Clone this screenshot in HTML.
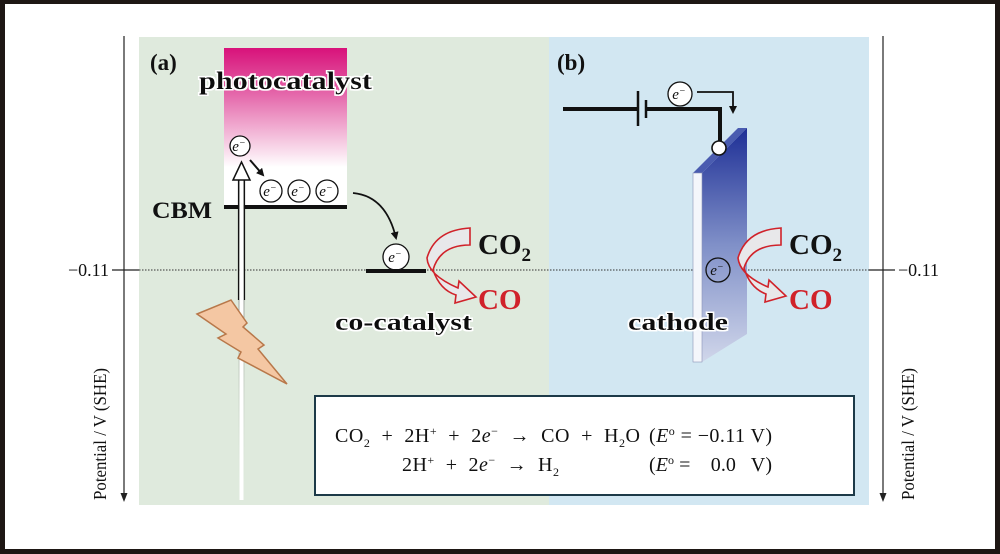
<!DOCTYPE html>
<html><head><meta charset="utf-8"><style>
html,body{margin:0;padding:0;background:#fff}
svg{display:block}
text{font-family:"Liberation Serif",serif;white-space:pre}
</style></head><body>
<svg width="1000" height="554" viewBox="0 0 1000 554" xmlns="http://www.w3.org/2000/svg" xml:space="preserve">
<defs>
<linearGradient id="pc" x1="0" y1="0" x2="0" y2="1">
<stop offset="0" stop-color="#d8127a"/><stop offset="0.25" stop-color="#e25aa3"/><stop offset="0.75" stop-color="#fff"/><stop offset="1" stop-color="#fff"/>
</linearGradient>
<linearGradient id="cat" x1="0" y1="0" x2="0" y2="1">
<stop offset="0" stop-color="#1e2f96"/><stop offset="0.5" stop-color="#8090c8"/><stop offset="1" stop-color="#d0d6ea"/>
</linearGradient>
<linearGradient id="fade" x1="0" y1="0" x2="0" y2="1">
<stop offset="0" stop-color="#333"/><stop offset="1" stop-color="#dfeadd" stop-opacity="0"/>
</linearGradient>
<filter id="halo"><feMorphology in="SourceAlpha" operator="dilate" radius="1.5" result="d"/><feFlood flood-color="#fff"/><feComposite in2="d" operator="in" result="w"/><feMerge><feMergeNode in="w"/><feMergeNode in="SourceGraphic"/></feMerge></filter>
<marker id="ah" markerWidth="8" markerHeight="8" refX="6" refY="4" orient="auto" markerUnits="userSpaceOnUse"><path d="M0,0 L8,4 L0,8 Z" fill="#111"/></marker>
</defs>
<rect x="0" y="0" width="1000" height="554" fill="#1e1714"/>
<rect x="5" y="4" width="990" height="545" fill="#fff"/>
<rect x="139" y="37" width="410" height="468" fill="#dfeadd"/>
<rect x="549" y="37" width="320" height="468" fill="#d2e7f2"/>
<line x1="124" y1="36" x2="124" y2="494" stroke="#222" stroke-width="1.2"/>
<path d="M120.5,493 L127.5,493 L124,502 Z" fill="#222"/>
<line x1="883" y1="36" x2="883" y2="494" stroke="#222" stroke-width="1.2"/>
<path d="M879.5,493 L886.5,493 L883,502 Z" fill="#222"/>
<line x1="112" y1="270" x2="139" y2="270" stroke="#222" stroke-width="1.2"/>
<line x1="869" y1="270" x2="895" y2="270" stroke="#222" stroke-width="1.2"/>
<line x1="139" y1="270" x2="869" y2="270" stroke="#333" stroke-width="1" stroke-dasharray="1.5,1.5"/>
<text x="109" y="276" font-size="18" text-anchor="end" fill="#111">−0.11</text>
<text x="898" y="276" font-size="18" fill="#111">−0.11</text>
<text transform="translate(106,500) rotate(-90)" font-size="18" fill="#111" textLength="132" lengthAdjust="spacingAndGlyphs">Potential / V (SHE)</text>
<text transform="translate(914,500) rotate(-90)" font-size="18" fill="#111" textLength="132" lengthAdjust="spacingAndGlyphs">Potential / V (SHE)</text>
<text x="150" y="70" font-size="23" font-weight="bold" fill="#111">(a)</text>
<rect x="224" y="48" width="123" height="159" fill="url(#pc)"/>
<text x="199" y="89" font-size="25" font-weight="bold" fill="#111" filter="url(#halo)" textLength="173" lengthAdjust="spacingAndGlyphs">photocatalyst</text>
<line x1="224" y1="207" x2="347" y2="207" stroke="#111" stroke-width="4"/>
<text x="152" y="218" font-size="23" font-weight="bold" fill="#111" textLength="60" lengthAdjust="spacingAndGlyphs">CBM</text>
<rect x="238.5" y="178" width="6" height="322" fill="url(#fade)"/>
<rect x="239.5" y="178" width="4" height="322" fill="#fff"/>
<path d="M233,180 L241.5,162 L250,180 Z" fill="#fff" stroke="#111" stroke-width="1.5"/>
<line x1="238.5" y1="180" x2="238.5" y2="300" stroke="#111" stroke-width="1.2"/>
<line x1="244.5" y1="180" x2="244.5" y2="300" stroke="#111" stroke-width="1.2"/>
<polygon points="197,314 231,300 247,323 243,327 264,345 258,349 287,384 238,358 241,352 218,338 226,334" fill="#f4c7a3" stroke="#b8784a" stroke-width="1.5"/>
<g font-size="15" font-style="italic" text-anchor="middle" fill="#111">
<circle cx="240" cy="146" r="10" fill="#fff" stroke="#111" stroke-width="1.3"/><text x="239" y="151">e<tspan font-size="10" dy="-5">−</tspan></text>
<circle cx="271" cy="191" r="11" fill="#fff" stroke="#111" stroke-width="1.3"/><text x="270" y="196">e<tspan font-size="10" dy="-5">−</tspan></text>
<circle cx="299" cy="191" r="11" fill="#fff" stroke="#111" stroke-width="1.3"/><text x="298" y="196">e<tspan font-size="10" dy="-5">−</tspan></text>
<circle cx="327" cy="191" r="11" fill="#fff" stroke="#111" stroke-width="1.3"/><text x="326" y="196">e<tspan font-size="10" dy="-5">−</tspan></text>
<circle cx="396" cy="257" r="13" fill="#fff" stroke="#111" stroke-width="1.3"/><text x="395" y="262">e<tspan font-size="10" dy="-5">−</tspan></text>
<circle cx="680" cy="94" r="12" fill="#fff" stroke="#111" stroke-width="1.3"/><text x="679" y="99">e<tspan font-size="10" dy="-5">−</tspan></text>
</g>
<line x1="250" y1="160" x2="263" y2="175" stroke="#111" stroke-width="2" marker-end="url(#ah)"/>
<path d="M353,193 Q386,196 396,238" fill="none" stroke="#111" stroke-width="1.8" marker-end="url(#ah)"/>
<line x1="366" y1="271" x2="426" y2="271" stroke="#111" stroke-width="4"/>
<path d="M470,228 L470,245 Q440,245 433,270 Q440,290 456,295 L455,303 L476,297 L459,281 L458,288 Q428,275 427,258 Q435,230 470,228 Z" fill="#e8e8ea" stroke="#d0222a" stroke-width="1.6"/>
<text x="478" y="254" font-size="29" font-weight="bold" fill="#111">CO<tspan font-size="19" dy="7">2</tspan></text>
<text x="478" y="309" font-size="29" font-weight="bold" fill="#d0222a">CO</text>
<text x="335" y="330" font-size="24" font-weight="bold" fill="#111" filter="url(#halo)" textLength="137" lengthAdjust="spacingAndGlyphs">co-catalyst</text>
<text x="557" y="70" font-size="23" font-weight="bold" fill="#111">(b)</text>
<line x1="563" y1="109" x2="638" y2="109" stroke="#111" stroke-width="4"/>
<line x1="638" y1="91" x2="638" y2="126" stroke="#111" stroke-width="2.5"/>
<line x1="646" y1="100" x2="646" y2="118" stroke="#111" stroke-width="2.5"/>
<polyline points="646,109 720,109 720,148" fill="none" stroke="#111" stroke-width="4"/>
<polyline points="697,92 733,92 733,112" fill="none" stroke="#111" stroke-width="1.8" marker-end="url(#ah)"/>
<polygon points="693,173 738,128 747,128 702,173" fill="#4a5cb0"/>
<polygon points="702,173 747,128 747,334 702,362" fill="url(#cat)"/>
<rect x="693" y="173" width="9" height="189" fill="#f4f6fb" stroke="#8a93b8" stroke-width="0.6"/>
<circle cx="719" cy="148" r="7" fill="#fff" stroke="#111" stroke-width="1.6"/>
<circle cx="718" cy="270" r="12" fill="none" stroke="#111" stroke-width="1.3"/>
<text x="717" y="275" font-size="15" font-style="italic" text-anchor="middle" fill="#111">e<tspan font-size="10" dy="-5">−</tspan></text>
<path d="M781,228 L781,245 Q751,245 744,268 Q750,288 766,294 L765,302 L786,296 L769,280 L768,287 Q740,275 738,258 Q746,230 781,228 Z" fill="#e8e8ea" stroke="#d0222a" stroke-width="1.6"/>
<text x="789" y="254" font-size="29" font-weight="bold" fill="#111">CO<tspan font-size="19" dy="7">2</tspan></text>
<text x="789" y="309" font-size="29" font-weight="bold" fill="#d0222a">CO</text>
<text x="628" y="330" font-size="24" font-weight="bold" fill="#111" filter="url(#halo)" textLength="100" lengthAdjust="spacingAndGlyphs">cathode</text>
<rect x="315" y="396" width="539" height="99" fill="#fff" stroke="#1d3a48" stroke-width="2"/>
<g font-size="20" fill="#111">
<text x="335" y="442" textLength="305">CO<tspan font-size="12" dy="5">2</tspan><tspan dy="-5">  +  2H</tspan><tspan font-size="12" dy="-7">+</tspan><tspan dy="7">  +  2</tspan><tspan font-style="italic">e</tspan><tspan font-size="12" dy="-7">−</tspan><tspan dy="7">  →  CO  +  H</tspan><tspan font-size="12" dy="5">2</tspan><tspan dy="-5">O</tspan></text>
<text x="649" y="442" textLength="123">(<tspan font-style="italic">E</tspan><tspan font-size="12" dy="-7">o</tspan><tspan dy="7"> = −0.11 V)</tspan></text>
<text x="402" y="471" textLength="157">2H<tspan font-size="12" dy="-7">+</tspan><tspan dy="7">  +  2</tspan><tspan font-style="italic">e</tspan><tspan font-size="12" dy="-7">−</tspan><tspan dy="7">  →  H</tspan><tspan font-size="12" dy="5">2</tspan></text>
<text x="649" y="471" textLength="123">(<tspan font-style="italic">E</tspan><tspan font-size="12" dy="-7">o</tspan><tspan dy="7"> =    0.0   V)</tspan></text>
</g>
</svg>
</body></html>
